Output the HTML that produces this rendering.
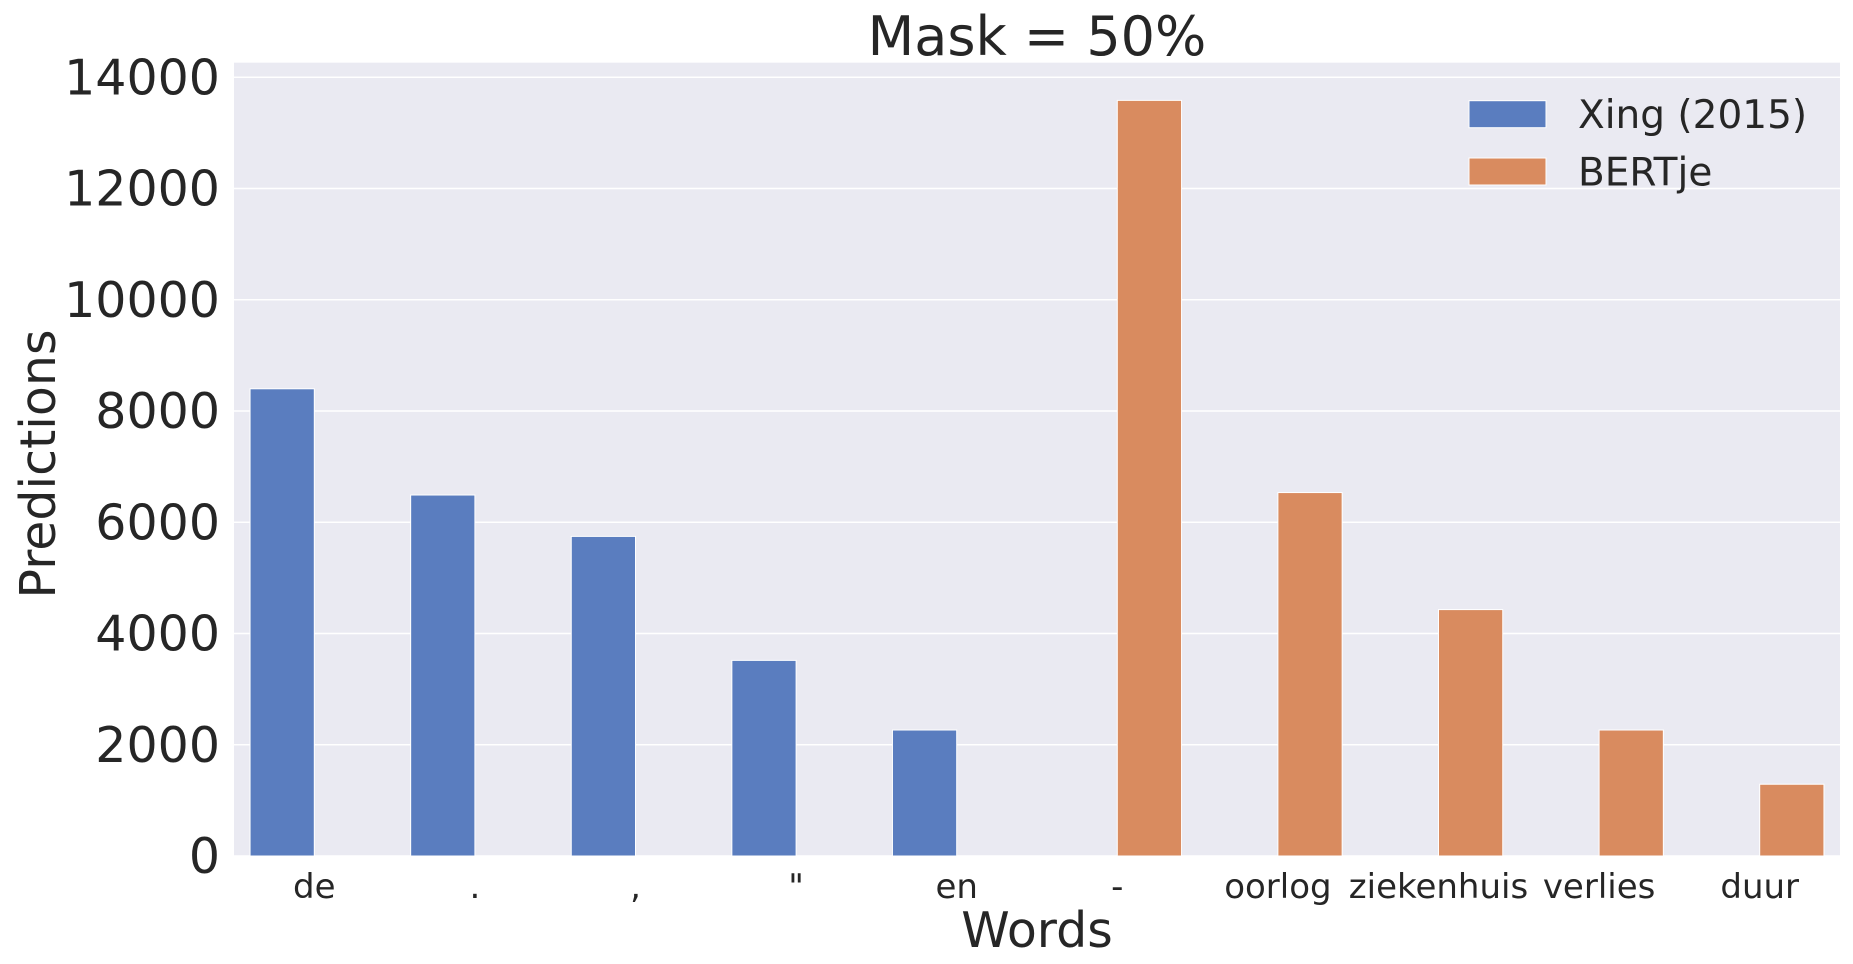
<!DOCTYPE html>
<html><head><meta charset="utf-8"><style>
body{margin:0;background:#fff;}
svg{display:block;font-family:"DejaVu Sans","Liberation Sans",sans-serif;}
</style></head><body>
<svg id="chart" width="1853" height="964" xmlns="http://www.w3.org/2000/svg"></svg>
<script>
const categories = ['de', '.', ',', '"', 'en', '-', 'oorlog', 'ziekenhuis', 'verlies', 'duur'];
const xingValues = [8400, 6490, 5746, 3517, 2265, 0, 0, 0, 0, 0];
const bertjeValues = [0, 0, 0, 0, 0, 13585, 6534, 4430, 2265, 1290];
const yTicks = [0, 2000, 4000, 6000, 8000, 10000, 12000, 14000];
const seriesNames = ['Xing (2015)', 'BERTje'];

const NS = 'http://www.w3.org/2000/svg';
const svg = document.getElementById('chart');
const L = 234, R = 1840, T = 62.7, B = 856;
const yMax = 14000, yTopPx = 77.3;
function y(v){ return B - v / yMax * (B - yTopPx); }
const slot = (R - L) / categories.length;
function xSlot(i){ return L + i * slot; }
function mk(tag, attrs, text){
  const e = document.createElementNS(NS, tag);
  for (const k in attrs) e.setAttribute(k, attrs[k]);
  if (text !== undefined) e.textContent = text;
  svg.appendChild(e);
  return e;
}
let e;
e = mk('rect', {x:L, y:T, width:R-L, height:B-T, fill:'#eaeaf2'});


yTicks.forEach(t => {
  e = mk('line', {x1:L, x2:R, y1:y(t), y2:y(t), stroke:'#fff', 'stroke-width':1.5});
  
  
  e = mk('text', {x:220, y:y(t)+17, 'text-anchor':'end', 'font-size':49, fill:'#262626'}, String(t));
  
  
});
const bw = slot * 0.4;
const colors = ['#5a7dbf', '#d98b5f'];
[xingValues, bertjeValues].forEach((vals, s) => {
  vals.forEach((v, i) => {
    if (v <= 0) return;
    const cx = xSlot(i) + slot / 2;
    const x0 = s === 0 ? cx - bw : cx;
    e = mk('rect', {x:x0, y:y(v), width:bw, height:B - y(v), fill:colors[s], stroke:'#fff', 'stroke-width':1});
    
    
  });
});
categories.forEach((c, i) => {
  e = mk('text', {x:xSlot(i) + slot / 2, y:898, 'text-anchor':'middle', 'font-size':34, fill:'#262626'}, c);
  
  
});
e = mk('text', {x:(L+R)/2, y:55, 'text-anchor':'middle', 'font-size':54, fill:'#262626'}, 'Mask = 50%');


e = mk('text', {x:(L+R)/2, y:947, 'text-anchor':'middle', 'font-size':49, fill:'#262626'}, 'Words');


e = mk('text', {x:0, y:0, 'text-anchor':'middle', 'font-size':49, fill:'#262626', transform:'translate(55,464) rotate(-90)'}, 'Predictions');


seriesNames.forEach((n, s) => {
  const py = s === 0 ? 100.7 : 158;
  e = mk('rect', {x:1469, y:py, width:77, height:27, fill:colors[s], stroke:'#fff', 'stroke-width':1});
  
  
  e = mk('text', {x:1578, y:py + 27.5, 'font-size':39, fill:'#262626'}, n);
  
  
});
</script>
</body></html>
